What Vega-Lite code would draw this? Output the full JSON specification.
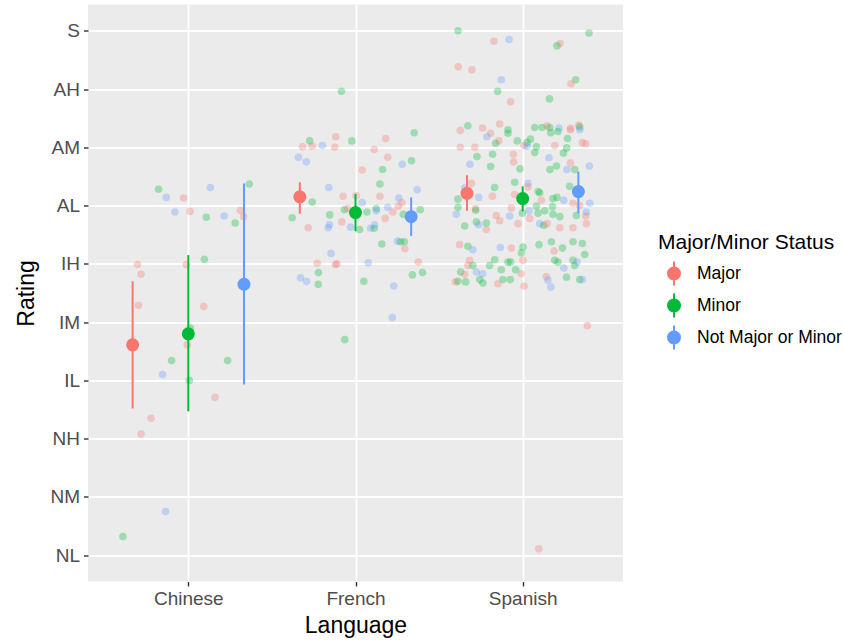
{
  "$schema": "https://vega.github.io/schema/vega-lite/v6.json",
  "autosize": "none",
  "padding": {"left": 88, "top": 4.5, "right": 221, "bottom": 59.5},
  "width": 535,
  "height": 577,
  "config": {
    "font": "Liberation Sans",
    "view": {"fill": "#EBEBEB", "stroke": null}
  },
  "datasets": {
    "pts": [
      {"pos":0.822,"rating":7.28,"status":"Minor"},
      {"pos":0.868,"rating":7.14,"status":"Not Major or Minor"},
      {"pos":1.132,"rating":7.31,"status":"Not Major or Minor"},
      {"pos":0.972,"rating":7.13,"status":"Major"},
      {"pos":0.920,"rating":6.89,"status":"Not Major or Minor"},
      {"pos":1.010,"rating":6.90,"status":"Major"},
      {"pos":1.108,"rating":6.80,"status":"Minor"},
      {"pos":1.214,"rating":6.82,"status":"Not Major or Minor"},
      {"pos":1.311,"rating":6.92,"status":"Major"},
      {"pos":1.331,"rating":6.81,"status":"Major"},
      {"pos":1.280,"rating":6.70,"status":"Minor"},
      {"pos":1.365,"rating":7.37,"status":"Minor"},
      {"pos":0.696,"rating":5.99,"status":"Major"},
      {"pos":0.717,"rating":5.82,"status":"Major"},
      {"pos":1.096,"rating":6.08,"status":"Minor"},
      {"pos":0.988,"rating":5.99,"status":"Major"},
      {"pos":0.702,"rating":5.29,"status":"Major"},
      {"pos":1.092,"rating":5.27,"status":"Major"},
      {"pos":1.012,"rating":4.90,"status":"Minor"},
      {"pos":0.994,"rating":4.61,"status":"Major"},
      {"pos":0.900,"rating":4.34,"status":"Minor"},
      {"pos":1.235,"rating":4.34,"status":"Minor"},
      {"pos":0.846,"rating":4.10,"status":"Not Major or Minor"},
      {"pos":1.006,"rating":4.00,"status":"Minor"},
      {"pos":1.160,"rating":3.71,"status":"Major"},
      {"pos":0.777,"rating":3.35,"status":"Major"},
      {"pos":0.717,"rating":3.08,"status":"Major"},
      {"pos":0.864,"rating":1.75,"status":"Not Major or Minor"},
      {"pos":0.609,"rating":1.32,"status":"Minor"},
      {"pos":1.916,"rating":8.96,"status":"Minor"},
      {"pos":2.351,"rating":8.25,"status":"Minor"},
      {"pos":1.882,"rating":8.18,"status":"Major"},
      {"pos":1.978,"rating":8.11,"status":"Minor"},
      {"pos":2.181,"rating":8.15,"status":"Major"},
      {"pos":1.726,"rating":8.11,"status":"Minor"},
      {"pos":1.683,"rating":8.01,"status":"Major"},
      {"pos":1.741,"rating":8.02,"status":"Major"},
      {"pos":1.802,"rating":8.03,"status":"Not Major or Minor"},
      {"pos":1.876,"rating":8.00,"status":"Major"},
      {"pos":2.112,"rating":7.96,"status":"Major"},
      {"pos":2.193,"rating":7.83,"status":"Major"},
      {"pos":1.659,"rating":7.83,"status":"Not Major or Minor"},
      {"pos":1.705,"rating":7.75,"status":"Not Major or Minor"},
      {"pos":2.280,"rating":7.71,"status":"Not Major or Minor"},
      {"pos":2.335,"rating":7.77,"status":"Minor"},
      {"pos":2.040,"rating":7.61,"status":"Major"},
      {"pos":2.162,"rating":7.62,"status":"Minor"},
      {"pos":2.146,"rating":7.37,"status":"Minor"},
      {"pos":1.840,"rating":7.31,"status":"Not Major or Minor"},
      {"pos":2.369,"rating":7.27,"status":"Not Major or Minor"},
      {"pos":1.926,"rating":7.16,"status":"Major"},
      {"pos":2.004,"rating":7.17,"status":"Major"},
      {"pos":2.146,"rating":7.16,"status":"Major"},
      {"pos":2.259,"rating":7.13,"status":"Not Major or Minor"},
      {"pos":1.741,"rating":7.06,"status":"Minor"},
      {"pos":2.040,"rating":7.05,"status":"Not Major or Minor"},
      {"pos":2.277,"rating":7.05,"status":"Major"},
      {"pos":2.256,"rating":6.99,"status":"Major"},
      {"pos":2.193,"rating":6.97,"status":"Not Major or Minor"},
      {"pos":2.124,"rating":6.95,"status":"Minor"},
      {"pos":2.124,"rating":6.91,"status":"Not Major or Minor"},
      {"pos":2.068,"rating":6.89,"status":"Minor"},
      {"pos":1.934,"rating":6.93,"status":"Minor"},
      {"pos":1.954,"rating":6.95,"status":"Major"},
      {"pos":2.223,"rating":6.89,"status":"Major"},
      {"pos":1.846,"rating":6.84,"status":"Minor"},
      {"pos":1.621,"rating":6.79,"status":"Minor"},
      {"pos":2.286,"rating":6.85,"status":"Minor"},
      {"pos":2.387,"rating":6.93,"status":"Minor"},
      {"pos":2.178,"rating":6.78,"status":"Major"},
      {"pos":1.918,"rating":6.72,"status":"Major"},
      {"pos":1.844,"rating":6.67,"status":"Not Major or Minor"},
      {"pos":1.837,"rating":6.62,"status":"Not Major or Minor"},
      {"pos":1.717,"rating":6.62,"status":"Major"},
      {"pos":1.970,"rating":6.63,"status":"Not Major or Minor"},
      {"pos":2.024,"rating":6.59,"status":"Minor"},
      {"pos":2.090,"rating":6.61,"status":"Not Major or Minor"},
      {"pos":2.112,"rating":6.61,"status":"Minor"},
      {"pos":2.114,"rating":6.67,"status":"Not Major or Minor"},
      {"pos":2.157,"rating":6.34,"status":"Minor"},
      {"pos":2.251,"rating":6.39,"status":"Not Major or Minor"},
      {"pos":2.269,"rating":6.38,"status":"Minor"},
      {"pos":2.292,"rating":6.38,"status":"Minor"},
      {"pos":2.295,"rating":6.26,"status":"Major"},
      {"pos":1.854,"rating":6.18,"status":"Not Major or Minor"},
      {"pos":1.771,"rating":6.01,"status":"Major"},
      {"pos":1.880,"rating":5.99,"status":"Major"},
      {"pos":1.888,"rating":6.00,"status":"Major"},
      {"pos":2.076,"rating":6.02,"status":"Not Major or Minor"},
      {"pos":2.375,"rating":6.03,"status":"Major"},
      {"pos":1.778,"rating":5.85,"status":"Minor"},
      {"pos":2.401,"rating":5.85,"status":"Minor"},
      {"pos":2.340,"rating":5.81,"status":"Minor"},
      {"pos":1.671,"rating":5.76,"status":"Not Major or Minor"},
      {"pos":1.707,"rating":5.70,"status":"Not Major or Minor"},
      {"pos":1.777,"rating":5.65,"status":"Minor"},
      {"pos":2.050,"rating":5.70,"status":"Minor"},
      {"pos":2.229,"rating":5.62,"status":"Not Major or Minor"},
      {"pos":2.220,"rating":5.08,"status":"Not Major or Minor"},
      {"pos":1.936,"rating":4.70,"status":"Minor"},
      {"pos":2.613,"rating":10.00,"status":"Minor"},
      {"pos":2.828,"rating":9.82,"status":"Major"},
      {"pos":2.918,"rating":9.85,"status":"Not Major or Minor"},
      {"pos":3.397,"rating":9.96,"status":"Minor"},
      {"pos":3.223,"rating":9.78,"status":"Major"},
      {"pos":3.205,"rating":9.74,"status":"Minor"},
      {"pos":2.615,"rating":9.38,"status":"Major"},
      {"pos":2.696,"rating":9.33,"status":"Major"},
      {"pos":2.872,"rating":9.16,"status":"Not Major or Minor"},
      {"pos":3.317,"rating":9.16,"status":"Minor"},
      {"pos":3.289,"rating":9.09,"status":"Major"},
      {"pos":2.850,"rating":8.96,"status":"Minor"},
      {"pos":2.928,"rating":8.78,"status":"Major"},
      {"pos":3.160,"rating":8.83,"status":"Minor"},
      {"pos":2.627,"rating":8.29,"status":"Major"},
      {"pos":2.672,"rating":8.37,"status":"Minor"},
      {"pos":2.760,"rating":8.33,"status":"Major"},
      {"pos":2.862,"rating":8.40,"status":"Major"},
      {"pos":2.912,"rating":8.30,"status":"Minor"},
      {"pos":3.072,"rating":8.34,"status":"Minor"},
      {"pos":3.146,"rating":8.37,"status":"Major"},
      {"pos":3.162,"rating":8.34,"status":"Minor"},
      {"pos":3.217,"rating":8.33,"status":"Not Major or Minor"},
      {"pos":3.287,"rating":8.33,"status":"Major"},
      {"pos":3.335,"rating":8.38,"status":"Major"},
      {"pos":3.341,"rating":8.35,"status":"Minor"},
      {"pos":3.341,"rating":8.30,"status":"Not Major or Minor"},
      {"pos":3.116,"rating":8.34,"status":"Minor"},
      {"pos":2.808,"rating":8.24,"status":"Major"},
      {"pos":2.786,"rating":8.18,"status":"Not Major or Minor"},
      {"pos":2.858,"rating":8.11,"status":"Major"},
      {"pos":2.838,"rating":8.07,"status":"Minor"},
      {"pos":2.912,"rating":8.24,"status":"Minor"},
      {"pos":2.968,"rating":8.11,"status":"Minor"},
      {"pos":3.168,"rating":8.25,"status":"Minor"},
      {"pos":3.211,"rating":8.27,"status":"Minor"},
      {"pos":3.285,"rating":8.30,"status":"Major"},
      {"pos":3.268,"rating":8.15,"status":"Minor"},
      {"pos":3.046,"rating":8.14,"status":"Minor"},
      {"pos":3.026,"rating":8.08,"status":"Minor"},
      {"pos":3.008,"rating":8.03,"status":"Major"},
      {"pos":3.026,"rating":8.02,"status":"Not Major or Minor"},
      {"pos":3.082,"rating":8.01,"status":"Minor"},
      {"pos":3.072,"rating":7.91,"status":"Minor"},
      {"pos":3.192,"rating":8.03,"status":"Major"},
      {"pos":3.357,"rating":8.08,"status":"Major"},
      {"pos":3.377,"rating":8.06,"status":"Major"},
      {"pos":2.627,"rating":8.00,"status":"Major"},
      {"pos":2.713,"rating":8.00,"status":"Major"},
      {"pos":2.820,"rating":7.88,"status":"Minor"},
      {"pos":2.726,"rating":7.84,"status":"Minor"},
      {"pos":2.944,"rating":7.88,"status":"Major"},
      {"pos":2.946,"rating":7.75,"status":"Major"},
      {"pos":3.263,"rating":7.99,"status":"Minor"},
      {"pos":3.244,"rating":7.90,"status":"Minor"},
      {"pos":3.157,"rating":7.82,"status":"Not Major or Minor"},
      {"pos":3.202,"rating":7.68,"status":"Minor"},
      {"pos":3.163,"rating":7.62,"status":"Minor"},
      {"pos":3.286,"rating":7.73,"status":"Major"},
      {"pos":3.311,"rating":7.62,"status":"Minor"},
      {"pos":3.265,"rating":7.62,"status":"Not Major or Minor"},
      {"pos":3.399,"rating":7.68,"status":"Not Major or Minor"},
      {"pos":2.684,"rating":7.71,"status":"Not Major or Minor"},
      {"pos":2.808,"rating":7.67,"status":"Minor"},
      {"pos":2.984,"rating":7.63,"status":"Minor"},
      {"pos":2.832,"rating":7.31,"status":"Minor"},
      {"pos":2.952,"rating":7.40,"status":"Minor"},
      {"pos":3.032,"rating":7.38,"status":"Not Major or Minor"},
      {"pos":3.032,"rating":7.32,"status":"Major"},
      {"pos":3.092,"rating":7.24,"status":"Minor"},
      {"pos":3.281,"rating":7.33,"status":"Minor"},
      {"pos":2.693,"rating":7.38,"status":"Major"},
      {"pos":2.653,"rating":7.30,"status":"Not Major or Minor"},
      {"pos":2.613,"rating":7.11,"status":"Minor"},
      {"pos":2.737,"rating":7.14,"status":"Not Major or Minor"},
      {"pos":2.819,"rating":7.16,"status":"Major"},
      {"pos":2.952,"rating":7.19,"status":"Major"},
      {"pos":3.102,"rating":7.22,"status":"Minor"},
      {"pos":3.112,"rating":7.09,"status":"Major"},
      {"pos":3.181,"rating":7.12,"status":"Minor"},
      {"pos":3.205,"rating":7.14,"status":"Minor"},
      {"pos":3.246,"rating":7.09,"status":"Not Major or Minor"},
      {"pos":3.301,"rating":7.04,"status":"Major"},
      {"pos":3.401,"rating":7.04,"status":"Not Major or Minor"},
      {"pos":3.341,"rating":7.00,"status":"Major"},
      {"pos":2.613,"rating":6.97,"status":"Minor"},
      {"pos":2.717,"rating":6.95,"status":"Major"},
      {"pos":2.719,"rating":6.92,"status":"Minor"},
      {"pos":2.603,"rating":6.85,"status":"Not Major or Minor"},
      {"pos":2.723,"rating":6.72,"status":"Minor"},
      {"pos":2.737,"rating":6.67,"status":"Not Major or Minor"},
      {"pos":2.783,"rating":6.70,"status":"Minor"},
      {"pos":2.783,"rating":6.59,"status":"Major"},
      {"pos":2.862,"rating":6.74,"status":"Major"},
      {"pos":2.922,"rating":6.82,"status":"Not Major or Minor"},
      {"pos":2.842,"rating":6.83,"status":"Major"},
      {"pos":2.932,"rating":6.96,"status":"Major"},
      {"pos":2.972,"rating":6.69,"status":"Major"},
      {"pos":2.998,"rating":6.87,"status":"Minor"},
      {"pos":3.038,"rating":6.91,"status":"Not Major or Minor"},
      {"pos":3.042,"rating":6.78,"status":"Major"},
      {"pos":3.082,"rating":6.99,"status":"Minor"},
      {"pos":3.092,"rating":6.87,"status":"Minor"},
      {"pos":3.132,"rating":6.91,"status":"Minor"},
      {"pos":3.178,"rating":6.98,"status":"Minor"},
      {"pos":3.181,"rating":6.85,"status":"Minor"},
      {"pos":3.222,"rating":6.81,"status":"Minor"},
      {"pos":3.102,"rating":6.69,"status":"Not Major or Minor"},
      {"pos":3.126,"rating":6.66,"status":"Minor"},
      {"pos":3.146,"rating":6.69,"status":"Major"},
      {"pos":3.222,"rating":6.62,"status":"Major"},
      {"pos":3.301,"rating":6.62,"status":"Major"},
      {"pos":3.321,"rating":6.83,"status":"Minor"},
      {"pos":3.377,"rating":6.82,"status":"Major"},
      {"pos":3.381,"rating":6.89,"status":"Not Major or Minor"},
      {"pos":3.381,"rating":6.69,"status":"Major"},
      {"pos":2.653,"rating":6.65,"status":"Minor"},
      {"pos":2.623,"rating":6.33,"status":"Major"},
      {"pos":2.672,"rating":6.30,"status":"Minor"},
      {"pos":2.702,"rating":6.24,"status":"Not Major or Minor"},
      {"pos":2.866,"rating":6.28,"status":"Not Major or Minor"},
      {"pos":2.932,"rating":6.27,"status":"Major"},
      {"pos":3.002,"rating":6.29,"status":"Minor"},
      {"pos":2.992,"rating":6.19,"status":"Minor"},
      {"pos":3.098,"rating":6.33,"status":"Minor"},
      {"pos":3.172,"rating":6.38,"status":"Minor"},
      {"pos":3.188,"rating":6.22,"status":"Major"},
      {"pos":3.238,"rating":6.27,"status":"Minor"},
      {"pos":3.301,"rating":6.38,"status":"Minor"},
      {"pos":3.357,"rating":6.35,"status":"Minor"},
      {"pos":3.371,"rating":6.16,"status":"Minor"},
      {"pos":2.832,"rating":6.07,"status":"Minor"},
      {"pos":2.683,"rating":6.06,"status":"Major"},
      {"pos":2.702,"rating":5.97,"status":"Minor"},
      {"pos":2.672,"rating":5.97,"status":"Major"},
      {"pos":2.802,"rating":5.97,"status":"Minor"},
      {"pos":2.912,"rating":6.03,"status":"Minor"},
      {"pos":2.928,"rating":6.03,"status":"Minor"},
      {"pos":3.002,"rating":6.06,"status":"Major"},
      {"pos":2.872,"rating":5.90,"status":"Minor"},
      {"pos":2.958,"rating":5.90,"status":"Minor"},
      {"pos":3.192,"rating":6.06,"status":"Minor"},
      {"pos":3.211,"rating":6.03,"status":"Minor"},
      {"pos":3.246,"rating":5.93,"status":"Not Major or Minor"},
      {"pos":3.301,"rating":6.06,"status":"Minor"},
      {"pos":3.311,"rating":5.97,"status":"Minor"},
      {"pos":3.325,"rating":6.03,"status":"Not Major or Minor"},
      {"pos":2.629,"rating":5.86,"status":"Minor"},
      {"pos":2.653,"rating":5.82,"status":"Major"},
      {"pos":2.723,"rating":5.86,"status":"Not Major or Minor"},
      {"pos":2.760,"rating":5.83,"status":"Not Major or Minor"},
      {"pos":2.743,"rating":5.73,"status":"Minor"},
      {"pos":2.762,"rating":5.67,"status":"Minor"},
      {"pos":2.882,"rating":5.73,"status":"Minor"},
      {"pos":2.926,"rating":5.73,"status":"Minor"},
      {"pos":2.992,"rating":5.83,"status":"Major"},
      {"pos":3.142,"rating":5.78,"status":"Major"},
      {"pos":3.151,"rating":5.72,"status":"Not Major or Minor"},
      {"pos":3.168,"rating":5.60,"status":"Not Major or Minor"},
      {"pos":2.852,"rating":5.66,"status":"Major"},
      {"pos":3.008,"rating":5.62,"status":"Major"},
      {"pos":3.262,"rating":5.77,"status":"Minor"},
      {"pos":3.341,"rating":5.73,"status":"Minor"},
      {"pos":3.357,"rating":5.73,"status":"Not Major or Minor"},
      {"pos":2.597,"rating":5.69,"status":"Major"},
      {"pos":2.613,"rating":5.70,"status":"Minor"},
      {"pos":2.659,"rating":5.69,"status":"Minor"},
      {"pos":3.387,"rating":4.94,"status":"Major"},
      {"pos":3.096,"rating":1.11,"status":"Major"}
    ],
    "summary": [
      {"pos":0.667,"status":"Major","mean":4.61,"lo":3.52,"hi":5.70},
      {"pos":1.0,"status":"Minor","mean":4.80,"lo":3.47,"hi":6.15},
      {"pos":1.333,"status":"Not Major or Minor","mean":5.65,"lo":3.93,"hi":7.38},
      {"pos":1.667,"status":"Major","mean":7.15,"lo":6.86,"hi":7.40},
      {"pos":2.0,"status":"Minor","mean":6.88,"lo":6.56,"hi":7.20},
      {"pos":2.333,"status":"Not Major or Minor","mean":6.81,"lo":6.48,"hi":7.14},
      {"pos":2.667,"status":"Major","mean":7.21,"lo":6.91,"hi":7.52},
      {"pos":3.0,"status":"Minor","mean":7.12,"lo":6.90,"hi":7.33},
      {"pos":3.333,"status":"Not Major or Minor","mean":7.24,"lo":6.87,"hi":7.58}
    ]
  },
  "layer": [
    {
      "data": {"name": "pts"},
      "mark": {"type": "circle", "size": 58, "opacity": 0.32},
      "encoding": {
        "x": {
          "field": "pos", "type": "quantitative",
          "scale": {"domain": [0.4, 3.6], "nice": false, "zero": false},
          "axis": {
            "title": "Language",
            "values": [1, 2, 3],
            "labelExpr": "['','Chinese','French','Spanish'][datum.value]",
            "domain": false,
            "grid": true, "gridColor": "#FFFFFF", "gridWidth": 1.8,
            "ticks": true, "tickColor": "#333333", "tickSize": 4.5, "tickWidth": 1.4,
            "labelFontSize": 19, "labelColor": "#4D4D4D", "labelPadding": 3,
            "titleFontSize": 23, "titleColor": "#000000", "titleFontWeight": "normal", "titlePadding": 6
          }
        },
        "y": {
          "field": "rating", "type": "quantitative",
          "scale": {"domain": [0.55, 10.45], "nice": false, "zero": false},
          "axis": {
            "title": "Rating",
            "values": [1, 1.5, 2, 2.5, 3, 3.5, 4, 4.5, 5, 5.5, 6, 6.5, 7, 7.5, 8, 8.5, 9, 9.5, 10],
            "labelExpr": "datum.value % 1 ? '' : ['NL','NM','NH','IL','IM','IH','AL','AM','AH','S'][datum.value - 1]",
            "domain": false,
            "grid": true, "gridColor": "#FFFFFF",
            "gridWidth": {"condition": {"test": "datum.value % 1 != 0", "value": 0.9}, "value": 1.8},
            "ticks": true, "tickColor": "#333333", "tickSize": 4.5, "tickWidth": 1.4,
            "tickOpacity": {"condition": {"test": "datum.value % 1 != 0", "value": 0}, "value": 1},
            "labelFontSize": 19, "labelColor": "#4D4D4D", "labelPadding": 4,
            "titleFontSize": 23, "titleColor": "#000000", "titleFontWeight": "normal", "titlePadding": 11
          }
        },
        "color": {
          "field": "status", "type": "nominal",
          "scale": {"domain": ["Major", "Minor", "Not Major or Minor"], "range": ["#F8766D", "#00BA38", "#619CFF"]},
          "legend": {
            "title": "Major/Minor Status",
            "orient": "none", "legendX": 570, "legendY": 227,
            "padding": 0,
            "titleFontSize": 21, "titleColor": "#000000", "titleFontWeight": "normal", "titlePadding": 8, "titleLimit": 400,
            "labelFontSize": 17.5, "labelColor": "#000000", "labelOffset": 10, "labelLimit": 400,
            "symbolType": "M0,-1L0,1M-0.5,0A0.5,0.5 0 1,0 0.5,0A0.5,0.5 0 1,0 -0.5,0Z",
            "symbolSize": 576, "symbolStrokeWidth": 2, "symbolOpacity": 1, "symbolOffset": 3,
            "rowPadding": 0,
            "encode": {"symbols": {"update": {"stroke": {"scale": "color", "field": "value"}, "fill": {"scale": "color", "field": "value"}, "opacity": {"value": 1}}}}
          }
        }
      }
    },
    {
      "data": {"name": "summary"},
      "mark": {"type": "rule", "strokeWidth": 2},
      "encoding": {
        "x": {"field": "pos", "type": "quantitative"},
        "y": {"field": "lo", "type": "quantitative"},
        "y2": {"field": "hi"},
        "color": {"field": "status", "type": "nominal"}
      }
    },
    {
      "data": {"name": "summary"},
      "mark": {"type": "circle", "size": 170, "opacity": 1},
      "encoding": {
        "x": {"field": "pos", "type": "quantitative"},
        "y": {"field": "mean", "type": "quantitative"},
        "color": {"field": "status", "type": "nominal"}
      }
    }
  ]
}
